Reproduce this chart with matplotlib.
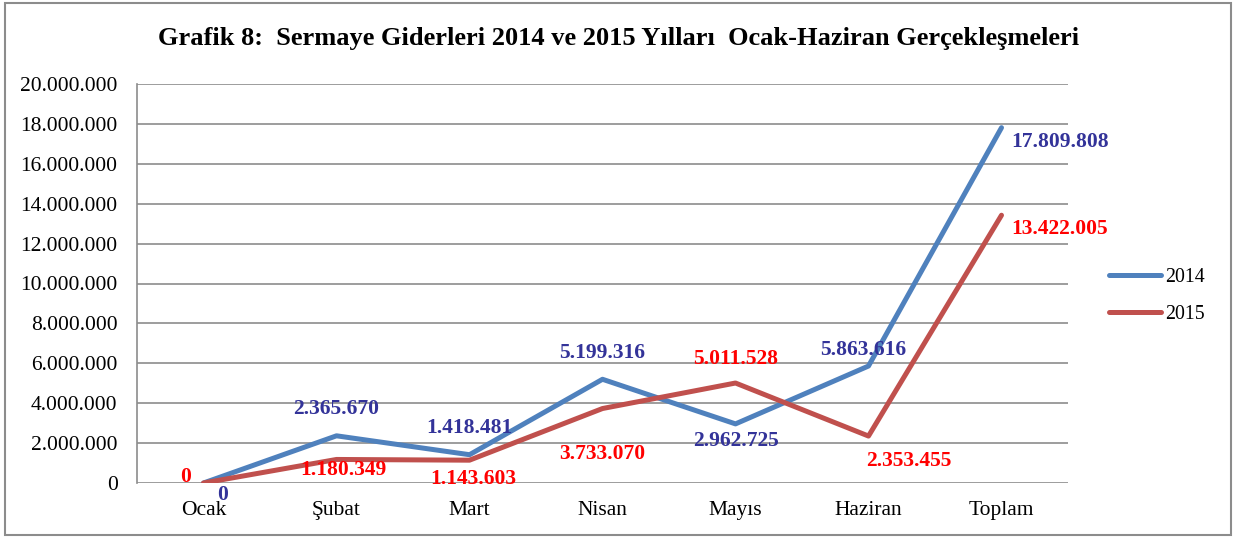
import matplotlib.pyplot as plt
from matplotlib.patches import Rectangle
from matplotlib.ticker import FuncFormatter

plt.rcParams['font.family'] = ['Liberation Serif', 'DejaVu Serif']

aylar = ['Ocak', 'Şubat', 'Mart', 'Nisan', 'Mayıs', 'Haziran', 'Toplam']
y2014 = [0, 2365670, 1418481, 5199316, 2962725, 5863616, 17809808]
y2015 = [0, 1180349, 1143603, 3733070, 5011528, 2353455, 13422005]

# etiket kaydirmalari (piksel)
ofs2014 = [(19, -12), (0, 27), (0, 27), (0, 26), (0, -17), (-5, 16), (10, -14)]
ofs2015 = [(-18, 6), (7, -11), (4, -19), (0, -45), (0, 24), (40, -25), (10, -14)]


def nokta(v):
    return f'{v:,}'.replace(',', '.')


fig = plt.figure(figsize=(12.37, 5.38), dpi=100)
ax = fig.add_axes([137 / 1237, 1 - 483 / 538, 931 / 1237, 399 / 538])

# cerceve
fig.patches.append(Rectangle((5 / 1237, 3 / 538), 1226 / 1237, 532 / 538,
                             transform=fig.transFigure, fill=False,
                             edgecolor='#8c8c8c', linewidth=1.5))

x = list(range(len(aylar)))
ax.plot(x, y2014, color='#4F81BD', linewidth=3.6, label='2014', solid_capstyle='round')
ax.plot(x, y2015, color='#C0504D', linewidth=3.6, label='2015', solid_capstyle='round')

for i, v in enumerate(y2014):
    dx, dy = ofs2014[i]
    ax.annotate(nokta(v), (x[i], v), xytext=(dx, dy), textcoords='offset pixels',
                ha='left' if i == 6 else 'center', va='center',
                fontsize=15.5, fontweight='bold', color='#333399')
for i, v in enumerate(y2015):
    dx, dy = ofs2015[i]
    ax.annotate(nokta(v), (x[i], v), xytext=(dx, dy), textcoords='offset pixels',
                ha='left' if i == 6 else 'center', va='center',
                fontsize=15.5, fontweight='bold', color='#FF0000')

ax.set_xlim(-0.5, len(aylar) - 0.5)
ax.set_ylim(0, 20000000)
ax.set_yticks(range(0, 20000001, 2000000))
ax.yaxis.set_major_formatter(FuncFormatter(lambda v, p: nokta(int(v))))
ax.set_xticks(x)
ax.set_xticklabels(aylar)
ax.tick_params(axis='both', length=0, labelsize=15.5)
ax.tick_params(axis='x', pad=13)
ax.tick_params(axis='y', pad=14)
ax.grid(axis='y', color='#8c8c8c', linewidth=1.2)
ax.set_axisbelow(True)
for s in ['top', 'right', 'bottom']:
    ax.spines[s].set_visible(False)
ax.spines['left'].set_color('#8c8c8c')
ax.spines['left'].set_linewidth(1.2)

fig.text(0.5, 1 - 39 / 538, 'Grafik 8:  Sermaye Giderleri 2014 ve 2015 Yılları  Ocak-Haziran Gerçekleşmeleri',
         ha='center', va='center', fontsize=19, fontweight='bold')

fig.legend(loc='center left', bbox_to_anchor=(1091 / 1237, 1 - 296 / 538), frameon=False,
           fontsize=14.3, handlelength=2.6, handletextpad=0.25, labelspacing=0.9)

fig.savefig('out.png', dpi=100)
